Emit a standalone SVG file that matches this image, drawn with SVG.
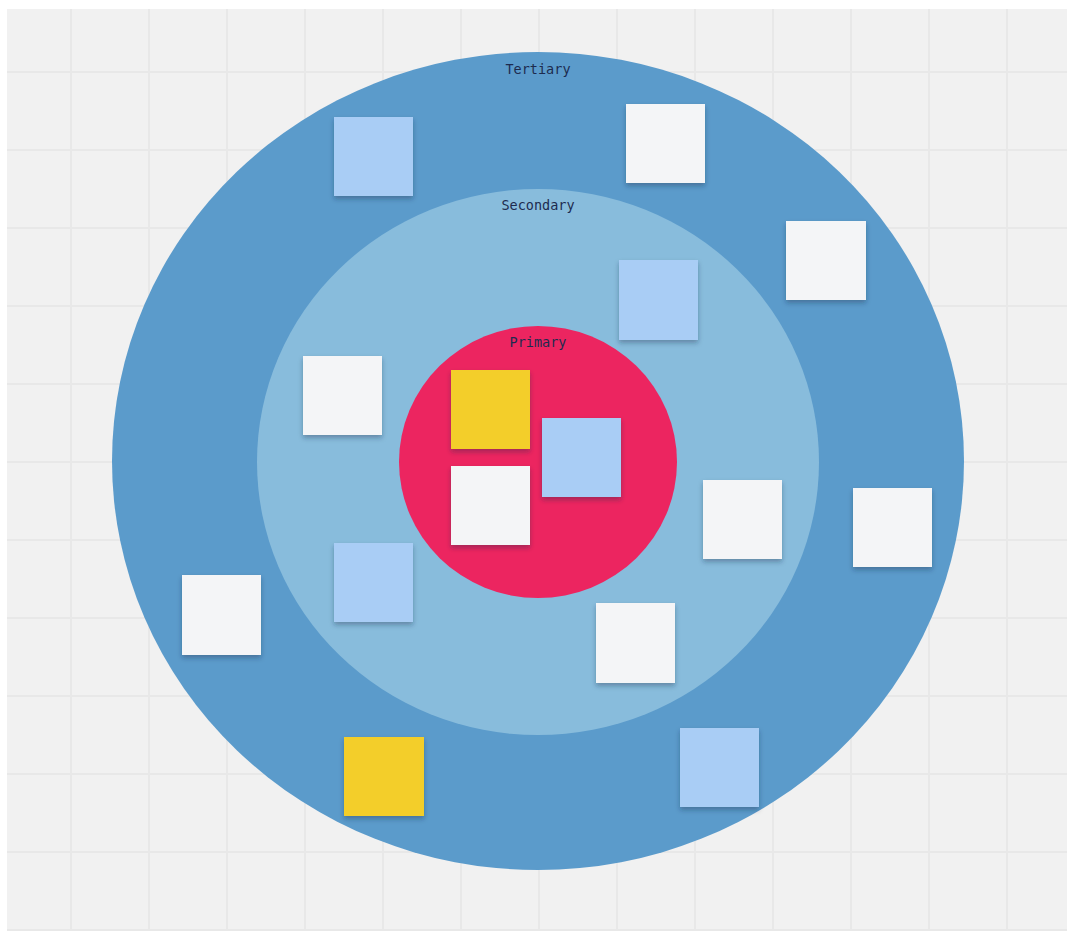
<svg xmlns="http://www.w3.org/2000/svg" width="1067" height="931" viewBox="0 0 1067 931">
<defs>
<pattern id="grid" x="70" y="71" width="78" height="78" patternUnits="userSpaceOnUse">
<rect x="0" y="0" width="2" height="78" fill="#e8e8e8"/>
<rect x="0" y="0" width="78" height="2" fill="#e8e8e8"/>
</pattern>
<filter id="sh" x="-20%" y="-20%" width="140%" height="150%">
<feDropShadow dx="0" dy="3" stdDeviation="2.5" flood-color="#1a2a40" flood-opacity="0.35"/>
</filter>
</defs>
<style>
.lbl{font-family:"DejaVu Sans Mono","Liberation Mono",monospace;font-size:13.5px;fill:#1d2b4f;text-anchor:middle}
.w{fill:#f4f5f7;filter:url(#sh)}
.b{fill:#a9cdf5;filter:url(#sh)}
.y{fill:#f3ce2c;filter:url(#sh)}
</style>
<rect width="1067" height="931" fill="#ffffff"/>
<rect x="7" y="9" width="1060" height="922" fill="#f1f1f1"/>
<rect x="7" y="9" width="1060" height="922" fill="url(#grid)"/>
<g id="tertiary">
<ellipse cx="538" cy="461" rx="426" ry="409" fill="#5b9bcb"/>
<text class="lbl" x="538" y="74">Tertiary</text>
</g>
<g id="secondary">
<ellipse cx="538" cy="462" rx="281" ry="273" fill="#88bcdc"/>
<text class="lbl" x="538" y="210">Secondary</text>
</g>
<g id="primary">
<ellipse cx="538" cy="462" rx="139" ry="136" fill="#ec2560"/>
<text class="lbl" x="538" y="347">Primary</text>
</g>
<g id="notes">
<rect id="n1" class="b" x="334" y="117" width="79" height="79"/>
<rect id="n2" class="w" x="626" y="104" width="79" height="79"/>
<rect id="n3" class="w" x="786" y="221" width="80" height="79"/>
<rect id="n4" class="w" x="853" y="488" width="79" height="79"/>
<rect id="n5" class="w" x="182" y="575" width="79" height="80"/>
<rect id="n6" class="y" x="344" y="737" width="80" height="79"/>
<rect id="n7" class="b" x="680" y="728" width="79" height="79"/>
<rect id="n8" class="b" x="619" y="260" width="79" height="80"/>
<rect id="n9" class="w" x="303" y="356" width="79" height="79"/>
<rect id="n10" class="w" x="703" y="480" width="79" height="79"/>
<rect id="n11" class="b" x="334" y="543" width="79" height="79"/>
<rect id="n12" class="w" x="596" y="603" width="79" height="80"/>
<rect id="n13" class="y" x="451" y="370" width="79" height="79"/>
<rect id="n14" class="b" x="542" y="418" width="79" height="79"/>
<rect id="n15" class="w" x="451" y="466" width="79" height="79"/>
</g>
<g id="connectors"/>
</svg>
